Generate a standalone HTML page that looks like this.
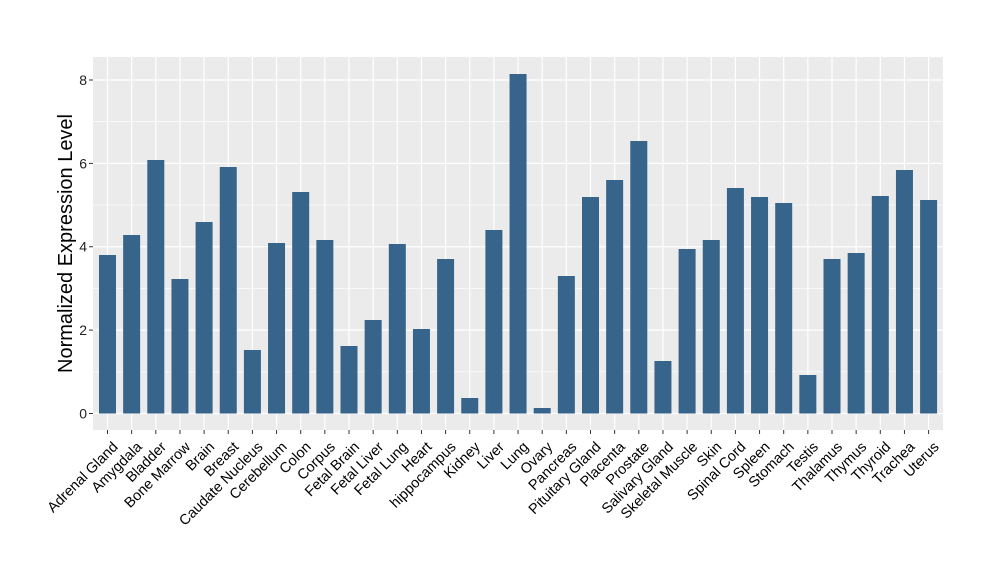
<!DOCTYPE html>
<html><head><meta charset="utf-8"><style>html,body{margin:0;background:#fff}svg{display:block}</style></head><body>
<svg width="1000" height="580" xmlns="http://www.w3.org/2000/svg" font-family="Liberation Sans, Arial, sans-serif">
<rect x="93" y="57" width="850" height="373" fill="#EBEBEB"/>
<g stroke="#fff" stroke-width="0.6">
<line x1="93" x2="943" y1="371.8" y2="371.8"/><line x1="93" x2="943" y1="288.4" y2="288.4"/><line x1="93" x2="943" y1="205.1" y2="205.1"/><line x1="93" x2="943" y1="121.7" y2="121.7"/>
</g>
<g stroke="#fff" stroke-width="1.2">
<line x1="93" x2="943" y1="413.5" y2="413.5"/><line x1="93" x2="943" y1="330.1" y2="330.1"/><line x1="93" x2="943" y1="246.75" y2="246.75"/><line x1="93" x2="943" y1="163.4" y2="163.4"/><line x1="93" x2="943" y1="80" y2="80"/>
<line x1="107.5" x2="107.5" y1="57" y2="430"/><line x1="131.65" x2="131.65" y1="57" y2="430"/><line x1="155.8" x2="155.8" y1="57" y2="430"/><line x1="179.95" x2="179.95" y1="57" y2="430"/><line x1="204.1" x2="204.1" y1="57" y2="430"/><line x1="228.25" x2="228.25" y1="57" y2="430"/><line x1="252.4" x2="252.4" y1="57" y2="430"/><line x1="276.55" x2="276.55" y1="57" y2="430"/><line x1="300.7" x2="300.7" y1="57" y2="430"/><line x1="324.85" x2="324.85" y1="57" y2="430"/><line x1="349" x2="349" y1="57" y2="430"/><line x1="373.15" x2="373.15" y1="57" y2="430"/><line x1="397.3" x2="397.3" y1="57" y2="430"/><line x1="421.45" x2="421.45" y1="57" y2="430"/><line x1="445.6" x2="445.6" y1="57" y2="430"/><line x1="469.75" x2="469.75" y1="57" y2="430"/><line x1="493.9" x2="493.9" y1="57" y2="430"/><line x1="518.05" x2="518.05" y1="57" y2="430"/><line x1="542.2" x2="542.2" y1="57" y2="430"/><line x1="566.35" x2="566.35" y1="57" y2="430"/><line x1="590.5" x2="590.5" y1="57" y2="430"/><line x1="614.65" x2="614.65" y1="57" y2="430"/><line x1="638.8" x2="638.8" y1="57" y2="430"/><line x1="662.95" x2="662.95" y1="57" y2="430"/><line x1="687.1" x2="687.1" y1="57" y2="430"/><line x1="711.25" x2="711.25" y1="57" y2="430"/><line x1="735.4" x2="735.4" y1="57" y2="430"/><line x1="759.55" x2="759.55" y1="57" y2="430"/><line x1="783.7" x2="783.7" y1="57" y2="430"/><line x1="807.85" x2="807.85" y1="57" y2="430"/><line x1="832" x2="832" y1="57" y2="430"/><line x1="856.15" x2="856.15" y1="57" y2="430"/><line x1="880.3" x2="880.3" y1="57" y2="430"/><line x1="904.45" x2="904.45" y1="57" y2="430"/><line x1="928.6" x2="928.6" y1="57" y2="430"/>
</g>
<g fill="#36648B">
<rect x="99" y="255" width="17" height="158.5"/>
<rect x="123.15" y="235" width="17" height="178.5"/>
<rect x="147.3" y="160" width="17" height="253.5"/>
<rect x="171.45" y="279" width="17" height="134.5"/>
<rect x="195.6" y="222" width="17" height="191.5"/>
<rect x="219.75" y="167" width="17" height="246.5"/>
<rect x="243.9" y="350" width="17" height="63.5"/>
<rect x="268.05" y="243" width="17" height="170.5"/>
<rect x="292.2" y="192" width="17" height="221.5"/>
<rect x="316.35" y="240" width="17" height="173.5"/>
<rect x="340.5" y="346" width="17" height="67.5"/>
<rect x="364.65" y="320" width="17" height="93.5"/>
<rect x="388.8" y="244" width="17" height="169.5"/>
<rect x="412.95" y="329" width="17" height="84.5"/>
<rect x="437.1" y="259" width="17" height="154.5"/>
<rect x="461.25" y="398" width="17" height="15.5"/>
<rect x="485.4" y="230" width="17" height="183.5"/>
<rect x="509.55" y="74" width="17" height="339.5"/>
<rect x="533.7" y="408" width="17" height="5.5"/>
<rect x="557.85" y="276" width="17" height="137.5"/>
<rect x="582" y="197" width="17" height="216.5"/>
<rect x="606.15" y="180" width="17" height="233.5"/>
<rect x="630.3" y="141" width="17" height="272.5"/>
<rect x="654.45" y="361" width="17" height="52.5"/>
<rect x="678.6" y="249" width="17" height="164.5"/>
<rect x="702.75" y="240" width="17" height="173.5"/>
<rect x="726.9" y="188" width="17" height="225.5"/>
<rect x="751.05" y="197" width="17" height="216.5"/>
<rect x="775.2" y="203" width="17" height="210.5"/>
<rect x="799.35" y="375" width="17" height="38.5"/>
<rect x="823.5" y="259" width="17" height="154.5"/>
<rect x="847.65" y="253" width="17" height="160.5"/>
<rect x="871.8" y="196" width="17" height="217.5"/>
<rect x="895.95" y="170" width="17" height="243.5"/>
<rect x="920.1" y="200" width="17" height="213.5"/>
</g>
<g stroke="#333" stroke-width="1">
<line x1="89" x2="93" y1="413.5" y2="413.5"/><line x1="89" x2="93" y1="330.1" y2="330.1"/><line x1="89" x2="93" y1="246.75" y2="246.75"/><line x1="89" x2="93" y1="163.4" y2="163.4"/><line x1="89" x2="93" y1="80" y2="80"/>
</g>
<g font-size="14" fill="#222" text-anchor="end">
<text x="87" y="418.5">0</text><text x="87" y="335.1">2</text><text x="87" y="251.7">4</text><text x="87" y="168.4">6</text><text x="87" y="85">8</text>
</g>
<text transform="translate(72,243.5) rotate(-90)" font-size="20" text-anchor="middle" fill="#000">Normalized Expression Level</text>
<g font-size="14.5" fill="#000" text-anchor="end">
<text transform="translate(111,440) rotate(-45)" dy="0.75em">Adrenal Gland</text>
<text transform="translate(135.15,440) rotate(-45)" dy="0.75em">Amygdala</text>
<text transform="translate(159.3,440) rotate(-45)" dy="0.75em">Bladder</text>
<text transform="translate(183.45,440) rotate(-45)" dy="0.75em">Bone Marrow</text>
<text transform="translate(207.6,440) rotate(-45)" dy="0.75em">Brain</text>
<text transform="translate(231.75,440) rotate(-45)" dy="0.75em">Breast</text>
<text transform="translate(255.9,440) rotate(-45)" dy="0.75em">Caudate Nucleus</text>
<text transform="translate(280.05,440) rotate(-45)" dy="0.75em">Cerebellum</text>
<text transform="translate(304.2,440) rotate(-45)" dy="0.75em">Colon</text>
<text transform="translate(328.35,440) rotate(-45)" dy="0.75em">Corpus</text>
<text transform="translate(352.5,440) rotate(-45)" dy="0.75em">Fetal Brain</text>
<text transform="translate(376.65,440) rotate(-45)" dy="0.75em">Fetal Liver</text>
<text transform="translate(400.8,440) rotate(-45)" dy="0.75em">Fetal Lung</text>
<text transform="translate(424.95,440) rotate(-45)" dy="0.75em">Heart</text>
<text transform="translate(449.1,440) rotate(-45)" dy="0.75em">hippocampus</text>
<text transform="translate(473.25,440) rotate(-45)" dy="0.75em">Kidney</text>
<text transform="translate(497.4,440) rotate(-45)" dy="0.75em">Liver</text>
<text transform="translate(521.55,440) rotate(-45)" dy="0.75em">Lung</text>
<text transform="translate(545.7,440) rotate(-45)" dy="0.75em">Ovary</text>
<text transform="translate(569.85,440) rotate(-45)" dy="0.75em">Pancreas</text>
<text transform="translate(594,440) rotate(-45)" dy="0.75em">Pituitary Gland</text>
<text transform="translate(618.15,440) rotate(-45)" dy="0.75em">Placenta</text>
<text transform="translate(642.3,440) rotate(-45)" dy="0.75em">Prostate</text>
<text transform="translate(666.45,440) rotate(-45)" dy="0.75em">Salivary Gland</text>
<text transform="translate(690.6,440) rotate(-45)" dy="0.75em">Skeletal Muscle</text>
<text transform="translate(714.75,440) rotate(-45)" dy="0.75em">Skin</text>
<text transform="translate(738.9,440) rotate(-45)" dy="0.75em">Spinal Cord</text>
<text transform="translate(763.05,440) rotate(-45)" dy="0.75em">Spleen</text>
<text transform="translate(787.2,440) rotate(-45)" dy="0.75em">Stomach</text>
<text transform="translate(811.35,440) rotate(-45)" dy="0.75em">Testis</text>
<text transform="translate(835.5,440) rotate(-45)" dy="0.75em">Thalamus</text>
<text transform="translate(859.65,440) rotate(-45)" dy="0.75em">Thymus</text>
<text transform="translate(883.8,440) rotate(-45)" dy="0.75em">Thyroid</text>
<text transform="translate(907.95,440) rotate(-45)" dy="0.75em">Trachea</text>
<text transform="translate(932.1,440) rotate(-45)" dy="0.75em">Uterus</text>
</g>
<g stroke="#333" stroke-width="1">
<line x1="107.5" x2="107.5" y1="430" y2="434"/><line x1="131.65" x2="131.65" y1="430" y2="434"/><line x1="155.8" x2="155.8" y1="430" y2="434"/><line x1="179.95" x2="179.95" y1="430" y2="434"/><line x1="204.1" x2="204.1" y1="430" y2="434"/><line x1="228.25" x2="228.25" y1="430" y2="434"/><line x1="252.4" x2="252.4" y1="430" y2="434"/><line x1="276.55" x2="276.55" y1="430" y2="434"/><line x1="300.7" x2="300.7" y1="430" y2="434"/><line x1="324.85" x2="324.85" y1="430" y2="434"/><line x1="349" x2="349" y1="430" y2="434"/><line x1="373.15" x2="373.15" y1="430" y2="434"/><line x1="397.3" x2="397.3" y1="430" y2="434"/><line x1="421.45" x2="421.45" y1="430" y2="434"/><line x1="445.6" x2="445.6" y1="430" y2="434"/><line x1="469.75" x2="469.75" y1="430" y2="434"/><line x1="493.9" x2="493.9" y1="430" y2="434"/><line x1="518.05" x2="518.05" y1="430" y2="434"/><line x1="542.2" x2="542.2" y1="430" y2="434"/><line x1="566.35" x2="566.35" y1="430" y2="434"/><line x1="590.5" x2="590.5" y1="430" y2="434"/><line x1="614.65" x2="614.65" y1="430" y2="434"/><line x1="638.8" x2="638.8" y1="430" y2="434"/><line x1="662.95" x2="662.95" y1="430" y2="434"/><line x1="687.1" x2="687.1" y1="430" y2="434"/><line x1="711.25" x2="711.25" y1="430" y2="434"/><line x1="735.4" x2="735.4" y1="430" y2="434"/><line x1="759.55" x2="759.55" y1="430" y2="434"/><line x1="783.7" x2="783.7" y1="430" y2="434"/><line x1="807.85" x2="807.85" y1="430" y2="434"/><line x1="832" x2="832" y1="430" y2="434"/><line x1="856.15" x2="856.15" y1="430" y2="434"/><line x1="880.3" x2="880.3" y1="430" y2="434"/><line x1="904.45" x2="904.45" y1="430" y2="434"/><line x1="928.6" x2="928.6" y1="430" y2="434"/>
</g>
</svg>
</body></html>
